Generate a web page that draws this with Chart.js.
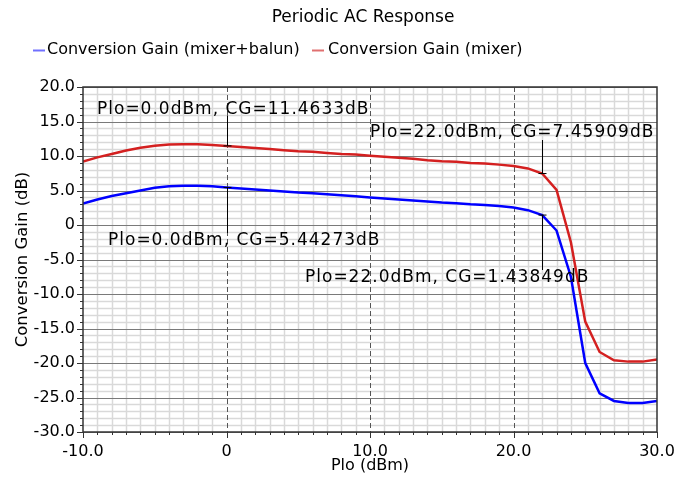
<!DOCTYPE html>
<html><head><meta charset="utf-8">
<script src="https://cdn.jsdelivr.net/npm/chart.js@4"></script>
<style>html,body{margin:0;padding:0;background:#fff}#wrap{width:688px;height:481px}</style>
</head><body><div id="wrap"><canvas id="c" width="688" height="481"></canvas></div>
<script>
const plo = [-10,-9,-8,-7,-6,-5,-4,-3,-2,-1,0,1,2,3,4,5,6,7,8,9,10,11,12,13,14,15,16,17,18,19,20,21,22,23,24,25,26,27,28,29,30];
const gainMixerBalun = [3.1,3.7,4.2,4.6,5.0,5.4,5.6,5.7,5.7,5.6,5.44273,5.3,5.15,5.0,4.85,4.7,4.6,4.45,4.3,4.15,4.0,3.85,3.7,3.55,3.4,3.25,3.15,3.0,2.9,2.75,2.55,2.15,1.43849,-0.8,-7.5,-20.0,-24.4,-25.5,-25.8,-25.8,-25.5];
const gainMixer = [9.2,9.8,10.3,10.8,11.2,11.5,11.65,11.7,11.7,11.6,11.4633,11.3,11.15,11.0,10.85,10.7,10.6,10.45,10.3,10.2,10.05,9.9,9.75,9.6,9.4,9.25,9.15,9.0,8.9,8.75,8.55,8.2,7.45909,5.1,-2.5,-14.0,-18.4,-19.6,-19.8,-19.8,-19.5];
const seriesNames = ['Conversion Gain (mixer+balun)','Conversion Gain (mixer)'];
const xTickValues = [-10,0,10,20,30];
const xTickLabels = ['-10.0','0','10.0','20.0','30.0'];
const yTickValues = [20,15,10,5,0,-5,-10,-15,-20,-25,-30];
const yTickLabels = ['20.0','15.0','10.0','5.0','0','-5.0','-10.0','-15.0','-20.0','-25.0','-30.0'];
const markerPlo = [0, 22];
const markerMixer = [11.4633, 7.45909];
const markerMixerBalun = [5.44273, 1.43849];

const FONT = '"DejaVu Sans", sans-serif';
const BLUE = '#0000ff', RED = '#d42020';

const gridPlugin = {
  id: 'gridPlugin',
  beforeDatasetsDraw(chart) {
    const {ctx, chartArea: a, scales: {x, y}} = chart;
    ctx.save();
    ctx.strokeStyle = '#d9d9d9'; ctx.lineWidth = 1.5;
    for (let v = x.min; v <= x.max; v += 1) {
      if (v % 10 === 0) continue;
      const p = Math.round(x.getPixelForValue(v)) + 0.5;
      ctx.beginPath(); ctx.moveTo(p, a.top); ctx.lineTo(p, a.bottom); ctx.stroke();
    }
    for (let v = y.min; v <= y.max; v += 1) {
      if (v % 5 === 0) continue;
      const p = Math.round(y.getPixelForValue(v)) + 0.5;
      ctx.beginPath(); ctx.moveTo(a.left, p); ctx.lineTo(a.right, p); ctx.stroke();
    }
    ctx.strokeStyle = '#7a7a7a'; ctx.lineWidth = 1.2;
    for (let v = y.min; v <= y.max; v += 5) {
      const p = Math.round(y.getPixelForValue(v)) + 0.5;
      ctx.beginPath(); ctx.moveTo(a.left, p); ctx.lineTo(a.right, p); ctx.stroke();
    }
    ctx.strokeStyle = '#555'; ctx.lineWidth = 1; ctx.setLineDash([5, 3]);
    for (let v = x.min + 10; v < x.max; v += 10) {
      const p = Math.round(x.getPixelForValue(v)) + 0.5;
      ctx.beginPath(); ctx.moveTo(p, a.top); ctx.lineTo(p, a.bottom); ctx.stroke();
    }
    ctx.setLineDash([]);
    ctx.restore();
  },
  afterDatasetsDraw(chart) {
    const {ctx, chartArea: a, scales: {x, y}} = chart;
    ctx.save();
    ctx.strokeStyle = '#333'; ctx.lineWidth = 1.5;
    ctx.strokeRect(a.left, a.top, a.right - a.left, a.bottom - a.top);
    ctx.strokeStyle = '#333'; ctx.lineWidth = 1;
    for (let v = y.min; v <= y.max; v += 1) {
      const p = Math.round(y.getPixelForValue(v)) + 0.5;
      const len = v % 5 === 0 ? 6 : 3;
      ctx.beginPath(); ctx.moveTo(a.left - len, p); ctx.lineTo(a.left, p); ctx.stroke();
    }
    for (let v = x.min; v <= x.max; v += 1) {
      const p = Math.round(x.getPixelForValue(v)) + 0.5;
      const len = v % 10 === 0 ? 6 : 3;
      ctx.beginPath(); ctx.moveTo(p, a.bottom); ctx.lineTo(p, a.bottom + len); ctx.stroke();
    }
    ctx.font = '17px ' + FONT;
    ctx.fillStyle = '#000';
    ctx.textBaseline = 'middle';
    try { ctx.letterSpacing = '1px'; } catch (e) {}
    const fmt = (p, g) => 'Plo=' + p.toFixed(1) + 'dBm, CG=' + g + 'dB';
    const labels = [
      {px: markerPlo[0], val: markerMixer[0], tx: 97, ty: 110, lineTo: 116},
      {px: markerPlo[0], val: markerMixerBalun[0], tx: 108, ty: 241, lineTo: 233},
      {px: markerPlo[1], val: markerMixer[1], tx: 370, ty: 133, lineTo: 140},
      {px: markerPlo[1], val: markerMixerBalun[1], tx: 305, ty: 278, lineTo: 270}
    ];
    labels.forEach(l => {
      const mx = Math.round(x.getPixelForValue(l.px)) + 0.5;
      const my = y.getPixelForValue(l.val);
      ctx.strokeStyle = '#000'; ctx.lineWidth = 1;
      ctx.beginPath(); ctx.moveTo(mx, l.lineTo); ctx.lineTo(mx, my); ctx.stroke();
      ctx.beginPath(); ctx.moveTo(mx - 4, my); ctx.lineTo(mx + 4, my); ctx.stroke();
      ctx.textAlign = 'left';
      ctx.fillText(fmt(l.px, l.val), l.tx, l.ty);
    });
    ctx.restore();
  },
  afterDraw(chart) {
    const {ctx} = chart;
    ctx.save();
    ctx.fillStyle = '#000';
    ctx.textBaseline = 'middle';
    ctx.textAlign = 'center';
    ctx.font = '17px ' + FONT;
    ctx.fillText('Periodic AC Response', 363, 18);
    ctx.textAlign = 'left';
    ctx.font = '16px ' + FONT;
    const items = [
      {name: seriesNames[0], color: '#7070ff', sx: 33, tx: 47},
      {name: seriesNames[1], color: '#e07070', sx: 312, tx: 328}
    ];
    items.forEach(it => {
      ctx.strokeStyle = it.color; ctx.lineWidth = 2;
      ctx.beginPath(); ctx.moveTo(it.sx, 50.5); ctx.lineTo(it.sx + 12, 50.5); ctx.stroke();
      ctx.fillText(it.name, it.tx, 50);
    });
    ctx.restore();
  }
};

new Chart(document.getElementById('c'), {
  type: 'line',
  data: {
    datasets: [
      {label: seriesNames[0], data: plo.map((p, i) => ({x: p, y: gainMixerBalun[i]})), borderColor: BLUE, borderWidth: 2.5, pointRadius: 0, tension: 0},
      {label: seriesNames[1], data: plo.map((p, i) => ({x: p, y: gainMixer[i]})), borderColor: RED, borderWidth: 2.5, pointRadius: 0, tension: 0}
    ]
  },
  options: {
    responsive: false,
    animation: false,
    devicePixelRatio: 1,
    layout: {padding: {top: 87, left: 0, right: 31, bottom: 0}},
    plugins: {legend: {display: false}, title: {display: false}, tooltip: {enabled: false}},
    scales: {
      x: {
        type: 'linear', min: -10, max: 30,
        afterBuildTicks: s => { s.ticks = xTickValues.map(v => ({value: v})); },
        afterFit: s => { s.height = 49; },
        grid: {display: false, drawTicks: false}, border: {display: false},
        ticks: {color: '#000', font: {family: FONT, size: 16}, padding: 10, maxRotation: 0,
          callback: (v) => xTickLabels[xTickValues.indexOf(v)]},
        title: {display: true, text: 'Plo (dBm)', color: '#000', font: {family: FONT, size: 16}, padding: {top: 0, bottom: 6}}
      },
      y: {
        type: 'linear', min: -30, max: 20,
        afterBuildTicks: s => { s.ticks = yTickValues.map(v => ({value: v})); },
        afterFit: s => { s.width = 83; },
        grid: {display: false, drawTicks: false}, border: {display: false},
        ticks: {color: '#000', font: {family: FONT, size: 16}, padding: 8,
          callback: (v) => yTickLabels[yTickValues.indexOf(v)]},
        title: {display: true, text: 'Conversion Gain (dB)', color: '#000', font: {family: FONT, size: 16.5}, padding: {top: 13, bottom: 0}}
      }
    }
  },
  plugins: [gridPlugin]
});
</script></body></html>
